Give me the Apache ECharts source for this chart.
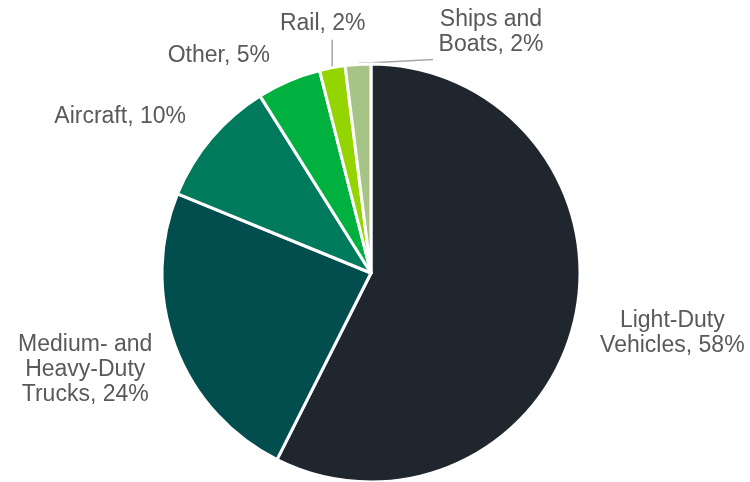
<!DOCTYPE html>
<html>
<head>
<meta charset="utf-8">
<script src="https://cdn.jsdelivr.net/npm/echarts@6/dist/echarts.min.js"></script>
<style>
  html, body { margin: 0; padding: 0; background: #ffffff; }
  #chart { width: 750px; height: 482px; }
</style>
</head>
<body>
<div id="chart"></div>
<script>
// Transportation sector shares (percent)
const categories = ['Light-Duty\nVehicles', 'Medium- and\nHeavy-Duty\nTrucks', 'Aircraft', 'Other', 'Rail', 'Ships and\nBoats'];
const shares = [58, 24, 10, 5, 2, 2];
const sliceColors = ['#1f262d', '#024e4f', '#007a5c', '#00b140', '#94d500', '#a7c487'];

// Label placement relative to each slice's outer-edge midpoint: [dx, dy]
const labelOffsets = [[98, 11.5], [-90, 23], [-91, -21.5], [-70, -25.5], [-9.5, -44], [133, -32.5]];
// Slices whose label gets a guide line
const guided = [4, 5];

const chart = echarts.init(document.getElementById('chart'), null, { renderer: 'canvas' });

const data = categories.map((name, i) => ({
  name: name,
  value: shares[i],
  itemStyle: { color: sliceColors[i] },
  labelLine: guided.includes(i) ? {} : { lineStyle: { opacity: 0 } }
}));

chart.setOption({
  animation: false,
  series: [{
    type: 'pie',
    center: [371, 273],
    radius: [0, 209],
    startAngle: 90,
    clockwise: true,
    avoidLabelOverlap: false,
    itemStyle: { borderColor: '#ffffff', borderWidth: 3 },
    label: {
      show: true,
      position: 'outside',
      formatter: '{b}, {c}%',
      color: '#595959',
      fontFamily: 'Liberation Sans, Arial, sans-serif',
      fontSize: 23,
      lineHeight: 25,
      align: 'center'
    },
    labelLine: {
      show: true,
      length: 10,
      length2: 10,
      lineStyle: { color: '#a6a6a6', width: 1.5 }
    },
    labelLayout: function (p) {
      const pts = p.labelLinePoints;
      if (!pts) return {};
      const a = pts[0];
      const o = labelOffsets[p.dataIndex];
      const out = {
        x: a[0] + o[0],
        y: a[1] + o[1],
        align: 'center',
        verticalAlign: 'middle'
      };
      if (p.dataIndex === 4) {
        out.labelLinePoints = [[a[0], a[1]], [a[0], a[1] - 28]];
      } else if (p.dataIndex === 5) {
        out.labelLinePoints = [[a[0], a[1] - 1], [a[0] + 75, a[1] - 5]];
      }
      return out;
    },
    emphasis: { disabled: true },
    data: data
  }]
});
</script>
</body>
</html>
